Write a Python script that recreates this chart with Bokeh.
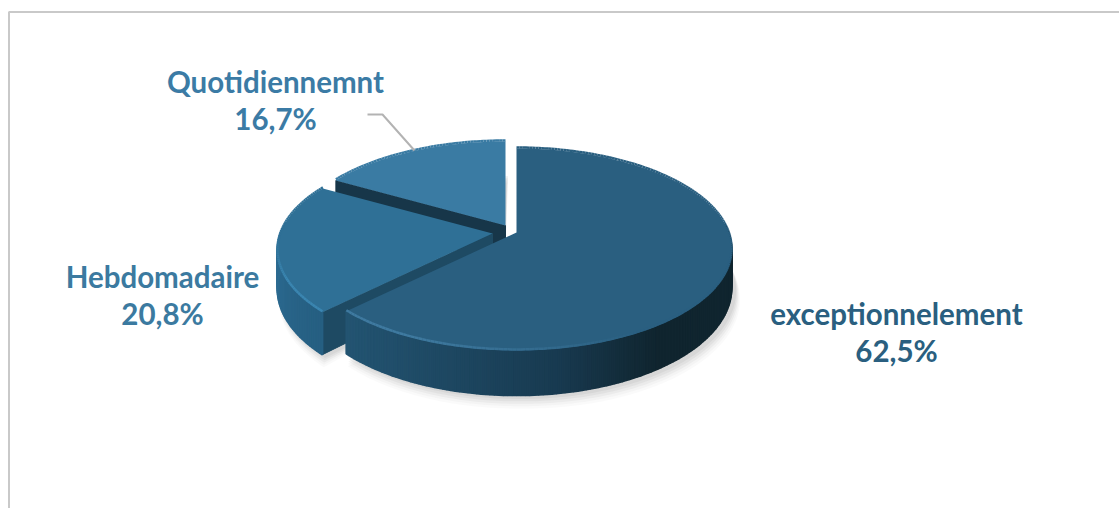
import math
from bokeh.plotting import figure
from bokeh.models import Range1d
from bokeh.core.properties import value
from bokeh.embed import file_html
from bokeh.resources import INLINE

categories = ["exceptionnelement", "Hebdomadaire", "Quotidiennemnt"]
shares = [62.5, 20.8, 16.7]

# --- layout and style (screen pixel coordinate system) ---
CX, CY, A, B, K, DEPTH = 516, 232, 98.1, 212, 0.168, 37.4
offsets = [(0, 0), (-24, 1), (-11, -7)]
top_col = ["#2a5f80", "#2f7096", "#3a7ba3"]
cut_col = ["#1f4a63", "#1e4a63", "#173649"]
text_col = ["#2a5f80", "#3b7aa0", "#3b7ba5"]
label_xy = [(896, 313), (162, 276), (275, 81)]
LINE_GAP = 37


def pt(theta, r=1.0, off=(0, 0), dep=0.0):
    u, v = r * math.sin(theta), r * math.cos(theta)
    w = 1 + K * v
    return (CX + off[0] + B * u / w, CY + off[1] - A * v / w + dep / w)


def mix(c1, c2, t):
    t = max(0, min(1, t))
    a = [int(c1[i:i + 2], 16) for i in (1, 3, 5)]
    b = [int(c2[i:i + 2], 16) for i in (1, 3, 5)]
    return "#%02x%02x%02x" % tuple(round(x + (y - x) * t) for x, y in zip(a, b))


def rim(a0, a1, off=(0, 0), dep=0.0, n=None):
    n = n or max(2, int(abs(a1 - a0) * 180 / math.pi))
    return [pt(a0 + (a1 - a0) * i / n, 1.0, off, dep) for i in range(n + 1)]


p = figure(width=1119, height=508, output_backend="svg", toolbar_location=None,
           x_range=Range1d(0, 1119), y_range=Range1d(508, 0),
           min_border=0, outline_line_color=None, background_fill_color="white")
p.axis.visible = False
p.grid.visible = False

# frame
p.line([8.5, 8.5, 1119], [508, 11.5, 11.5], line_color="#c9c9c9", line_width=2)

# angular spans from the data
spans = []
acc = 0.0
total = sum(shares)
for s in shares:
    a0 = acc / total * 2 * math.pi
    acc += s
    spans.append((a0, acc / total * 2 * math.pi))

# soft shadow
for i, (a0, a1) in enumerate(spans):
    off = offsets[i]
    for grow, alpha in [(11, 0.04), (9, 0.05), (7, 0.07), (5, 0.09), (3, 0.10)]:
        poly = [pt(a0, 0, off, DEPTH + 4)] + rim(a0, a1, (off[0] + 3, off[1]), DEPTH + grow)
        xs = [q[0] + (grow if q[0] > CX else (-grow * 0.3)) * 0.5 for q in poly]
        ys = [q[1] for q in poly]
        p.patch(xs, ys, fill_color="#808080", fill_alpha=alpha, line_color=None)


def draw_slice(i):
    a0, a1 = spans[i]
    off = offsets[i]
    # cut faces
    for edge in (a0, a1):
        q = [pt(edge, 0, off), pt(edge, 1, off), pt(edge, 1, off, DEPTH), pt(edge, 0, off, DEPTH)]
        show = (i == 1 and edge == a0) or (i == 2 and edge == a0)
        if show:
            p.patch([c[0] for c in q], [c[1] for c in q], fill_color=cut_col[i], line_color=cut_col[i])
    # outer wall (front-facing part only)
    n = int((a1 - a0) * 180 / math.pi)
    top = rim(a0, a1, off, 0, n)
    bot = rim(a0, a1, off, DEPTH, n)
    xs, ys, cols = [], [], []
    for k in range(n):
        if math.cos(a0 + (a1 - a0) * k / n) > 0.1 or i == 2:
            continue
        xs.append([top[k][0], top[k + 1][0], bot[k + 1][0], bot[k][0]])
        ys.append([top[k][1], top[k + 1][1], bot[k + 1][1], bot[k][1]])
        if i == 0:
            f = (top[k][0] - 345) / (735 - 345)
            c = mix("#235472", "#183a50", f / 0.55) if f < 0.55 else mix("#183a50", "#10252f", (f - 0.55) / 0.25)
        else:
            c = mix("#2c6a90", "#265f82", (top[k][1] - 250) / 60)
        cols.append(c)
    if xs:
        p.patches(xs, ys, fill_color=cols, line_color=cols, line_width=2)
    # top face
    face = [pt(a0, 0, off)] + top
    p.patch([c[0] for c in face], [c[1] for c in face], fill_color=top_col[i], line_color=None)
    # bevel highlight
    bx, by, bc = [], [], []
    for k in range(n):
        ang = a0 + (a1 - a0) * k / n
        deg = math.degrees(ang)
        if i == 0:
            col = mix(top_col[0], "#3f7aa0", (deg - 150) / 55)
        elif i == 1:
            col = mix(top_col[1], "#3b86b1", (268 - deg) / 25)
        else:
            col = top_col[2]
        bx.append([top[k][0], top[k + 1][0]])
        by.append([top[k][1] - 1, top[k + 1][1] - 1])
        bc.append(col)
    p.multi_line(bx, by, line_color=bc, line_width=2.5)


for i in (2, 1, 0):
    draw_slice(i)

# leader line for the smallest slice
p.line([367, 382, 414], [114, 114, 150], line_color="#b3b3b3", line_width=2)

# labels
for name, s, (x, y), c in zip(categories, shares, label_xy, text_col):
    pct = f"{s:.1f}%".replace(".", ",")
    p.text([x, x], [y, y + LINE_GAP], text=[name, pct], text_color=c,
           text_font=value("Lato"), text_font_style="bold", text_font_size=value("29.5px"),
           text_align="center", text_baseline="middle")

open("out.html", "w").write(file_html(p, INLINE))
